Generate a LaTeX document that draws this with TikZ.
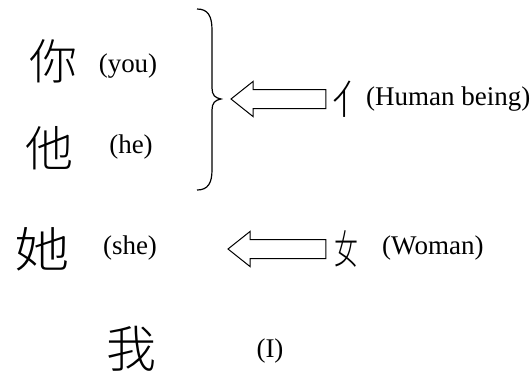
\documentclass[tikz,border=0pt]{standalone}
\usepackage{fontspec}
\setmainfont{Liberation Serif}
\newfontfamily\cjk{Noto Sans CJK SC Light}
\usetikzlibrary{calc}

\tikzset{
  hanzi/.style={font=\cjk\fontsize{48}{48}\selectfont, inner sep=0pt},
  gloss/.style={font=\fontsize{27}{27}\selectfont, inner sep=0pt},
  hollow/.style={draw, line width=1pt, fill=white, line join=miter},
}

\begin{document}
\begin{tikzpicture}[x=1pt,y=-1pt]
  \useasboundingbox (0,0) rectangle (531,376);
  % pronouns and their glosses
  \node[hanzi] (ni) at (54,61) {你};
  \node[gloss] (you) at (128,66) {(you)};
  \node[hanzi] (ta) at (50,148) {他};
  \node[gloss] (he) at (131,147) {(he)};
  \node[hanzi] (tashe) at (42,249) {\scalebox{1.15}[1]{她}};
  \node[gloss] (she) at (130,248) {(she)};
  \node[hanzi,font=\cjk\fontsize{50}{50}\selectfont] (wo) at (131,349) {我};
  \node[gloss] (i) at (270,351) {(I)};
  % radicals
  \node[hanzi,font=\cjk\fontsize{40}{40}\selectfont] (ren) at (342,99) {\makebox[20pt][l]{亻}};
  \node[gloss,anchor=west] (human) at (366,99) {(Human being)};
  \node[hanzi,font=\cjk\fontsize{40}{40}\selectfont] (nv) at (346,249) {\scalebox{0.6}[1]{女}};
  \node[gloss,anchor=west] (woman) at (382,248) {(Woman)};
  % brace round the first two
  \draw[line width=1.2pt] (197,9) .. controls (208,9) and (212,16) .. (212,30)
    -- (212,88) .. controls (212,95) and (215,98) .. (221,99) coordinate (btip)
    .. controls (215,100) and (212,103) .. (212,110)
    -- (212,170) .. controls (212,183) and (208,190) .. (197,190);
  \coordinate (shetip) at (228,248);
  % hollow arrows
  \draw[hollow] let \p1=($(ren.west)+(-6,0)$), \p2=($(btip)+(10,0)$) in
    (\x1,\y1-9.5pt) -- (\x2+22pt,\y1-9.5pt) -- (\x2+22pt,\y1-17.5pt) -- (\x2,\y1)
    -- (\x2+22pt,\y1+17.5pt) -- (\x2+22pt,\y1+9.5pt) -- (\x1,\y1+9.5pt) -- cycle;
  \draw[hollow] let \p1=($(nv.west)+(-8,0)$), \p2=(shetip) in
    (\x1,\y1-9.5pt) -- (\x2+22pt,\y1-9.5pt) -- (\x2+22pt,\y1-17.5pt) -- (\x2,\y1)
    -- (\x2+22pt,\y1+17.5pt) -- (\x2+22pt,\y1+9.5pt) -- (\x1,\y1+9.5pt) -- cycle;
\end{tikzpicture}
\end{document}
